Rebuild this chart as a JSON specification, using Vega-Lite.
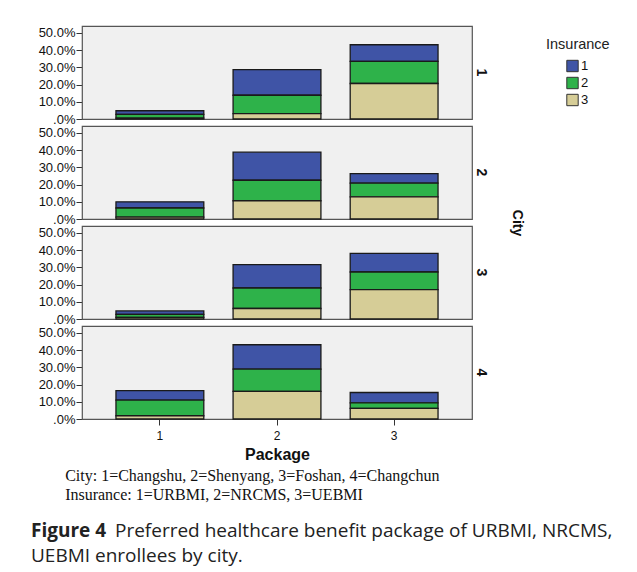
{
  "$schema": "https://vega.github.io/schema/vega-lite/v6.json",
  "padding": {"left": 31, "top": 25, "right": 5, "bottom": 5},
  "background": "white",
  "config": {"view": {"stroke": null}, "font": "Liberation Sans"},
  "resolve": {"legend": {"color": "independent"}},
  "spacing": 15,
  "vconcat": [
    {
      "data": {"values": [
        {"city": 1, "package": 1, "ins": "1", "pct": 2.1},
        {"city": 1, "package": 1, "ins": "2", "pct": 2.2},
        {"city": 1, "package": 1, "ins": "3", "pct": 0.5},
        {"city": 1, "package": 2, "ins": "1", "pct": 14.9},
        {"city": 1, "package": 2, "ins": "2", "pct": 10.7},
        {"city": 1, "package": 2, "ins": "3", "pct": 3.1},
        {"city": 1, "package": 3, "ins": "1", "pct": 9.6},
        {"city": 1, "package": 3, "ins": "2", "pct": 12.9},
        {"city": 1, "package": 3, "ins": "3", "pct": 20.6},
        {"city": 2, "package": 1, "ins": "1", "pct": 3.6},
        {"city": 2, "package": 1, "ins": "2", "pct": 5.3},
        {"city": 2, "package": 1, "ins": "3", "pct": 1.1},
        {"city": 2, "package": 2, "ins": "1", "pct": 16.3},
        {"city": 2, "package": 2, "ins": "2", "pct": 11.9},
        {"city": 2, "package": 2, "ins": "3", "pct": 10.6},
        {"city": 2, "package": 3, "ins": "1", "pct": 5.5},
        {"city": 2, "package": 3, "ins": "2", "pct": 7.9},
        {"city": 2, "package": 3, "ins": "3", "pct": 12.9},
        {"city": 3, "package": 1, "ins": "1", "pct": 2.0},
        {"city": 3, "package": 1, "ins": "2", "pct": 1.8},
        {"city": 3, "package": 1, "ins": "3", "pct": 0.9},
        {"city": 3, "package": 2, "ins": "1", "pct": 13.6},
        {"city": 3, "package": 2, "ins": "2", "pct": 11.9},
        {"city": 3, "package": 2, "ins": "3", "pct": 6.1},
        {"city": 3, "package": 3, "ins": "1", "pct": 10.8},
        {"city": 3, "package": 3, "ins": "2", "pct": 10.3},
        {"city": 3, "package": 3, "ins": "3", "pct": 17.0},
        {"city": 4, "package": 1, "ins": "1", "pct": 5.5},
        {"city": 4, "package": 1, "ins": "2", "pct": 9.1},
        {"city": 4, "package": 1, "ins": "3", "pct": 1.9},
        {"city": 4, "package": 2, "ins": "1", "pct": 14.1},
        {"city": 4, "package": 2, "ins": "2", "pct": 13.0},
        {"city": 4, "package": 2, "ins": "3", "pct": 16.0},
        {"city": 4, "package": 3, "ins": "1", "pct": 6.0},
        {"city": 4, "package": 3, "ins": "2", "pct": 3.2},
        {"city": 4, "package": 3, "ins": "3", "pct": 6.2}
      ]},
      "facet": {
        "row": {
          "field": "city", "type": "ordinal", "title": "City",
          "header": {
            "labelOrient": "right", "titleOrient": "right",
            "labelAngle": 90, "titleAngle": 90,
            "labelFont": "Liberation Sans", "titleFont": "Liberation Sans",
            "labelFontSize": 14, "labelFontWeight": "bold",
            "titleFontSize": 14, "titleFontWeight": "bold",
            "labelColor": "#111", "titleColor": "#111",
            "labelPadding": 2, "titlePadding": 12
          }
        }
      },
      "bounds": "flush",
      "spacing": 7,
      "title": {
        "text": ["City: 1=Changshu, 2=Shenyang, 3=Foshan, 4=Changchun", "Insurance: 1=URBMI, 2=NRCMS, 3=UEBMI"],
        "orient": "bottom", "anchor": "start", "font": "Liberation Serif",
        "fontSize": 16, "fontWeight": "normal", "lineHeight": 19,
        "dx": 27, "offset": 6, "color": "#111"
      },
      "spec": {
        "width": 390,
        "height": 93,
        "view": {"fill": "#f0f0f0", "stroke": "#555555", "strokeWidth": 1.2},
        "mark": {"type": "bar", "stroke": "#1a1a1a", "strokeWidth": 1.3},
        "encoding": {
          "x": {
            "field": "package", "type": "ordinal", "title": "Package",
            "scale": {"paddingInner": 0.25, "paddingOuter": 0.29},
            "axis": {
              "labelAngle": 0, "tickSize": 6, "labelFontSize": 12,
              "titleFontSize": 16, "titleFontWeight": "bold", "titleColor": "#111",
              "domain": false, "tickColor": "#333", "labelColor": "#111",
              "labelPadding": 5, "titlePadding": 5
            }
          },
          "y": {
            "field": "pct", "type": "quantitative", "stack": "zero",
            "scale": {"domain": [0, 54], "nice": false},
            "axis": {
              "values": [0, 10, 20, 30, 40, 50],
              "labelExpr": "datum.value == 0 ? '.0%' : format(datum.value, '.1f') + '%'",
              "labelFontSize": 13, "tickSize": 6, "domain": false, "grid": false,
              "title": null, "labelPadding": 1, "tickColor": "#333", "labelColor": "#111"
            }
          },
          "color": {
            "field": "ins", "type": "nominal", "title": "Insurance",
            "scale": {"domain": ["1", "2", "3"], "range": ["#3f54a6", "#2eb24a", "#d6cd97"]},
            "legend": {
              "orient": "right", "offset": 10, "padding": 12,
              "titleFontSize": 14.5, "titleFontWeight": "normal", "titleColor": "#222",
              "titlePadding": 7,
              "labelFontSize": 13, "labelColor": "#111",
              "symbolType": "square", "symbolSize": 130,
              "symbolStrokeColor": "#333", "symbolStrokeWidth": 1,
              "rowPadding": 0, "symbolOffset": 20, "labelOffset": 2
            }
          },
          "order": {"field": "ins", "sort": "descending"}
        }
      }
    },
    {
      "width": 580,
      "height": 50,
      "view": {"stroke": null, "fill": null},
      "encoding": {
        "y": {"field": "line", "type": "ordinal", "axis": null, "scale": {"paddingInner": 0, "paddingOuter": 0}}
      },
      "layer": [
        {
          "data": {"values": [{"line": 1, "t": "Figure 4"}]},
          "mark": {"type": "text", "align": "left", "baseline": "middle", "font": "Open Sans", "fontSize": 19, "fontWeight": "bold", "color": "#222", "dx": -51},
          "encoding": {"x": {"value": 0}, "text": {"field": "t"}}
        },
        {
          "data": {"values": [{"line": 1, "t": "Preferred healthcare benefit package of URBMI, NRCMS,"}]},
          "mark": {"type": "text", "align": "left", "baseline": "middle", "font": "Open Sans", "fontSize": 19, "color": "#222", "dx": 33},
          "encoding": {"x": {"value": 0}, "text": {"field": "t"}}
        },
        {
          "data": {"values": [{"line": 2, "t": "UEBMI enrollees by city."}]},
          "mark": {"type": "text", "align": "left", "baseline": "middle", "font": "Open Sans", "fontSize": 19, "color": "#222", "dx": -51},
          "encoding": {"x": {"value": 0}, "text": {"field": "t"}}
        }
      ]
    }
  ]
}
